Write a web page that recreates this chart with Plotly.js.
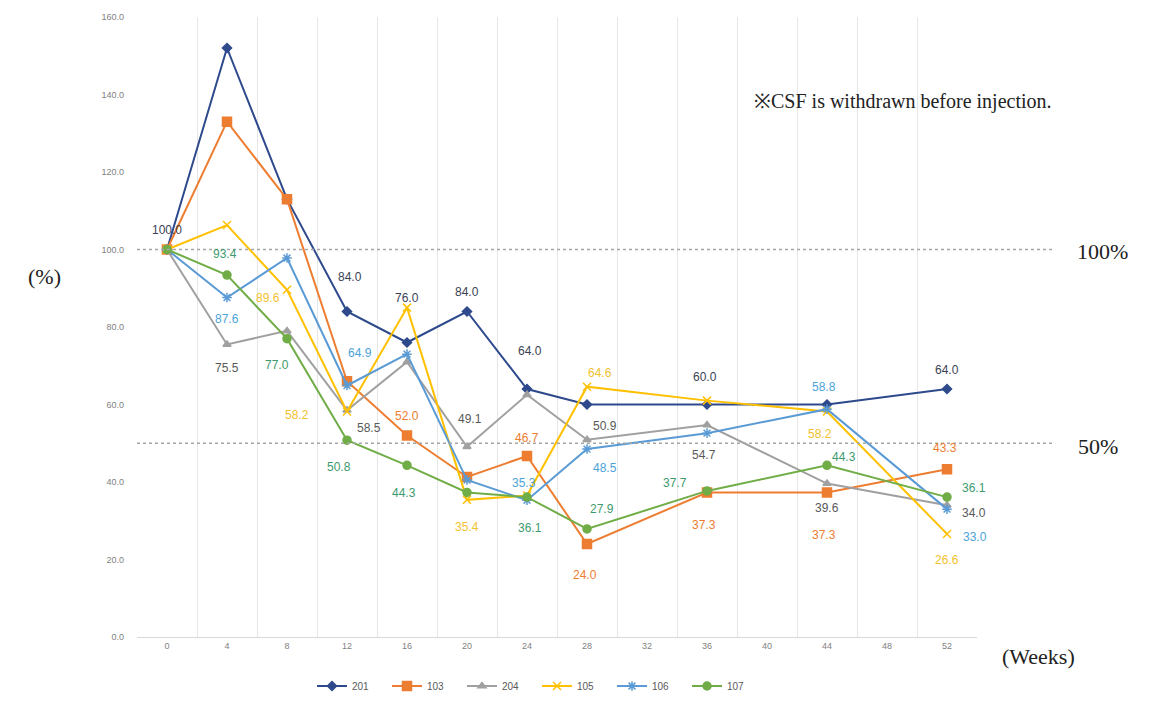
<!DOCTYPE html>
<html>
<head>
<meta charset="utf-8">
<script src="https://cdn.plot.ly/plotly-3.0.1.min.js"></script>
<style>html,body{margin:0;padding:0;background:#fff;}#chart{width:1153px;height:702px;}</style>
</head>
<body>
<div id="chart"></div>
<script>
// ---- data ----
const weeks = ['0','4','8','12','16','20','24','28','32','36','40','44','48','52'];
const seriesNames = ['201','103','204','105','106','107'];
const s201 = [100, 152, 113, 84, 76, 84, 64, 60, null, 60, null, 60, null, 64];
const s103 = [100, 133, 113, 66, 52, 41.3, 46.7, 24, null, 37.3, null, 37.3, null, 43.3];
const s204 = [100, 75.5, 79, 58.5, 71, 49.1, 62.5, 50.9, null, 54.7, null, 39.6, null, 34];
const s105 = [100, 106.3, 89.6, 58.2, 85, 35.4, 36.5, 64.6, null, 61, null, 58.2, null, 26.6];
const s106 = [100, 87.6, 97.8, 64.9, 73, 40.5, 35.3, 48.5, null, 52.6, null, 58.8, null, 33];
const s107 = [100, 93.4, 77, 50.8, 44.3, 37.3, 36.1, 27.9, null, 37.7, null, 44.3, null, 36.1];
const seriesValues = [s201, s103, s204, s105, s106, s107];

// ---- styles ----
const lineColors = ['#2E4A8C', '#ED7D31', '#A0A0A0', '#FFC000', '#5B9BD5', '#70AD47'];
const labelColors = ['#3A3F55', '#ED7D31', '#595959', '#F2C12E', '#4BA3D8', '#3E9A6E'];
const markerSymbols = ['diamond', 'square', 'triangle-up', 'x-thin-open', 'asterisk-open', 'circle'];
const markerSizes = [7, 9, 7, 8, 8, 8];
// data-label placement per series: [point index, dx(px), dy(px, screen down)]
const labelPlacement = [
  [[0,0,-20],[3,3,-35],[4,0,-45],[5,0,-20],[6,3,-38],[9,-2,-28],[13,0,-19]],
  [[4,0,-20],[6,0,-18],[7,-2,31],[9,-3,33],[11,-3,43],[13,-2,-21]],
  [[1,0,24],[3,22,18],[5,3,-28],[7,18,-14],[9,-3,30],[11,0,24],[13,27,8]],
  [[2,-19,8],[3,-50,4],[5,0,27],[7,13,-14],[11,-7,23],[13,0,26]],
  [[1,0,21],[3,13,-33],[6,-3,-17],[7,18,19],[11,-3,-22],[13,28,28]],
  [[1,-2,-21],[2,-10,26],[3,-8,27],[4,-3,28],[6,3,31],[7,15,-20],[9,-32,-8],[11,17,-8],[13,27,-9]]
];

const traces = seriesNames.map((name, k) => ({
  type: 'scatter',
  mode: 'lines+markers',
  name: name,
  x: weeks,
  y: seriesValues[k],
  connectgaps: true,
  line: {color: lineColors[k], width: 2},
  marker: {
    symbol: markerSymbols[k],
    size: markerSizes[k],
    color: lineColors[k],
    line: {color: lineColors[k], width: 1.5}
  },
  cliponaxis: false
}));

const annotations = [];
labelPlacement.forEach((list, k) => {
  list.forEach(([i, dx, dy]) => {
    const v = seriesValues[k][i];
    annotations.push({
      x: i, y: v, xref: 'x', yref: 'y', xanchor: 'center', yanchor: 'middle',
      text: v.toFixed(1), showarrow: false,
      xshift: dx, yshift: -dy,
      font: {family: 'Liberation Sans, Arial, sans-serif', size: 12, color: labelColors[k]}
    });
  });
});

const serif = 'Liberation Serif, Times New Roman, serif';
annotations.push(
  {xref: 'paper', yref: 'paper', x: -0.11, y: (637-276)/620, text: '(%)', showarrow: false,
   xanchor: 'center', yanchor: 'middle', font: {family: serif, size: 22, color: '#222'}},
  {xref: 'paper', yref: 'y', x: (1102-137)/840, y: 100, text: '100%', showarrow: false, yshift: -2,
   xanchor: 'center', yanchor: 'middle', font: {family: serif, size: 22, color: '#222'}},
  {xref: 'paper', yref: 'y', x: (1098-137)/840, y: 50, text: '50%', showarrow: false, yshift: -3,
   xanchor: 'center', yanchor: 'middle', font: {family: serif, size: 22, color: '#222'}},
  {xref: 'paper', yref: 'paper', x: (1038-137)/840, y: (637-656)/620, text: '(Weeks)', showarrow: false,
   xanchor: 'center', yanchor: 'middle', font: {family: serif, size: 22, color: '#222'}},
  {xref: 'paper', yref: 'y', x: (903-137)/840, y: 138.3, text: '※CSF is withdrawn before injection.', showarrow: false,
   xanchor: 'center', yanchor: 'middle', font: {family: serif, size: 20, color: '#222'}}
);

const shapes = [100, 50].map(v => ({
  type: 'line', xref: 'paper', yref: 'y', x0: 0, x1: 1.093, y0: v, y1: v,
  line: {color: '#A6A6A6', width: 1.5, dash: 'dot'}
}));

const layout = {
  width: 1153, height: 702,
  margin: {l: 137, r: 176, t: 17, b: 65},
  paper_bgcolor: '#fff', plot_bgcolor: '#fff',
  showlegend: true,
  legend: {orientation: 'h', xref: 'container', yref: 'container',
    x: 537/1153, y: (702-686)/702, xanchor: 'center', yanchor: 'middle',
    font: {family: 'Liberation Sans, Arial, sans-serif', size: 10, color: '#595959'},
    entrywidth: 30, entrywidthmode: 'pixels', itemwidth: 30, tracegroupgap: 0},
  xaxis: {
    type: 'category', categoryorder: 'array', categoryarray: weeks,
    range: [-0.5, 13.5], tickson: 'boundaries',
    showgrid: true, gridcolor: '#E6E6E6', gridwidth: 1,
    showline: true, linecolor: '#D9D9D9', linewidth: 1,
    ticks: '', tickfont: {family: 'Liberation Sans, Arial, sans-serif', size: 9, color: '#7F7F7F'},
    zeroline: false, fixedrange: true
  },
  yaxis: {
    range: [0, 160], dtick: 20, tickformat: '.1f',
    showgrid: false, zeroline: false, showline: false, ticks: '',
    ticklabelstandoff: 12,
    tickfont: {family: 'Liberation Sans, Arial, sans-serif', size: 9, color: '#7F7F7F'},
    fixedrange: true
  },
  annotations: annotations,
  shapes: shapes
};

Plotly.newPlot('chart', traces, layout, {displayModeBar: false, staticPlot: true});
</script>
</body>
</html>
